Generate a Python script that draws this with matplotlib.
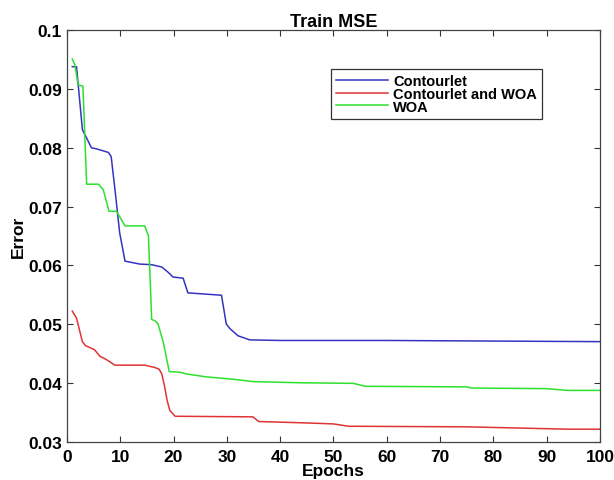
import matplotlib.pyplot as plt

# ===============================
# data
# ===============================
epochs_contourlet = [1, 1.8, 2.9, 4.6, 5.6, 7.8, 8.3, 9.0, 9.9, 10.9, 13.7, 15.9,
                     17.8, 19.0, 19.9, 21.8, 22.7, 29.0, 29.9, 30.6, 32.1, 34.3,
                     40, 60, 80, 100]
mse_contourlet = [0.0938, 0.0938, 0.0831, 0.0800, 0.0798, 0.0792, 0.0785, 0.0730,
                  0.0655, 0.0607, 0.0602, 0.0601, 0.0597, 0.0588, 0.0580, 0.0578,
                  0.0553, 0.0549, 0.0500, 0.0492, 0.0480, 0.0473,
                  0.0472, 0.0472, 0.0471, 0.0470]

epochs_both = [1, 1.8, 2.9, 3.5, 4.3, 5.2, 6.2, 7.1, 8.0, 9.0, 14.6, 16.5, 17.3,
               17.8, 18.3, 18.8, 19.3, 20.3, 34.9, 36.0, 43.7, 50.0, 52.8, 75,
               94, 100]
mse_both = [0.0522, 0.0510, 0.0470, 0.0463, 0.0460, 0.0456, 0.0445, 0.0441,
            0.0436, 0.0430, 0.0430, 0.0426, 0.0423, 0.0415, 0.0395, 0.0370,
            0.0353, 0.0343, 0.0342, 0.0334, 0.0332, 0.0330, 0.0326, 0.0325,
            0.0321, 0.0321]

epochs_woa = [1, 1.5, 2.1, 3.0, 3.7, 5.9, 6.8, 7.9, 9.3, 10.9, 14.6, 15.3, 15.9,
              16.6, 17.1, 18.1, 19.2, 21.2, 22.4, 26.2, 31.2, 34.9, 43.7, 53.7,
              56.0, 75.0, 76.0, 90.0, 94.0, 100]
mse_woa = [0.0951, 0.0941, 0.0907, 0.0905, 0.0738, 0.0738, 0.0729, 0.0692,
           0.0692, 0.0667, 0.0667, 0.0650, 0.0508, 0.0505, 0.0500, 0.0468,
           0.0419, 0.0418, 0.0415, 0.0410, 0.0406, 0.0402, 0.0400, 0.0399,
           0.0394, 0.0393, 0.0391, 0.0390, 0.0387, 0.0387]

labels = ["Contourlet", "Contourlet and WOA", "WOA"]
colors = ["#3434c0", "#e03434", "#2ee02e"]

x_ticks = list(range(0, 101, 10))
y_ticks = [0.03, 0.04, 0.05, 0.06, 0.07, 0.08, 0.09, 0.1]
y_tick_labels = ["0.03", "0.04", "0.05", "0.06", "0.07", "0.08", "0.09", "0.1"]

# ===============================
# figure
# ===============================
plt.rcParams['font.family'] = ['Liberation Sans', 'DejaVu Sans']
plt.rcParams['font.weight'] = 'bold'

fig = plt.figure(figsize=(6.14, 4.81), dpi=100)
ax = fig.add_axes([0.109, 0.080, 0.868, 0.855])

ax.plot(epochs_contourlet, mse_contourlet, color=colors[0], lw=1.1, label=labels[0])
ax.plot(epochs_both, mse_both, color=colors[1], lw=1.1, label=labels[1])
ax.plot(epochs_woa, mse_woa, color=colors[2], lw=1.1, label=labels[2])

ax.set_xlim(0, 100)
ax.set_ylim(0.03, 0.1)
ax.set_xticks(x_ticks)
ax.set_yticks(y_ticks)
ax.set_yticklabels(y_tick_labels)

ax.tick_params(direction='in', top=True, right=True, length=4, width=0.8,
               labelsize=12.5, color='#333333')
ax.tick_params(axis='x', pad=5.5)
ax.tick_params(axis='y', pad=3.5)
for s in ax.spines.values():
    s.set_color('#444444')
    s.set_linewidth(0.9)

ax.set_title("Train MSE", fontsize=13, fontweight='bold', pad=3)
ax.set_xlabel("Epochs", fontsize=12.5, fontweight='bold', labelpad=-1)
ax.set_ylabel("Error", fontsize=12.5, fontweight='bold', labelpad=2)

leg = ax.legend(loc='upper left', bbox_to_anchor=(0.495, 0.905), fontsize=10.5,
                frameon=True, fancybox=False, framealpha=1, edgecolor='#333333',
                handlelength=3.6, handletextpad=0.35, labelspacing=-0.1,
                borderpad=0.35, borderaxespad=0)
leg.get_frame().set_linewidth(0.9)
for t in leg.get_texts():
    t.set_fontweight('bold')

plt.savefig("out.png", dpi=100)
plt.close()
